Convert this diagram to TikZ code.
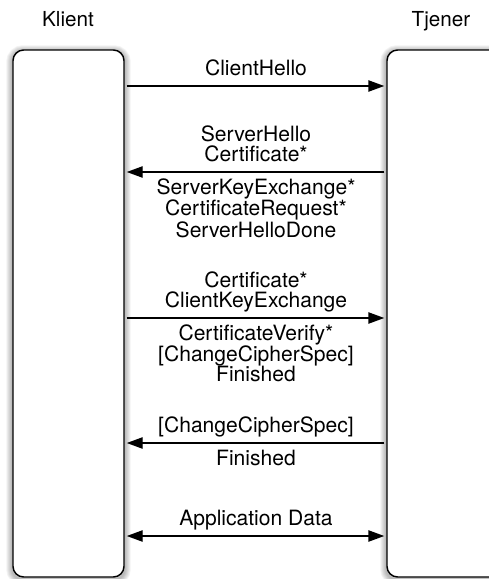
\documentclass[tikz,border=0pt]{standalone}
\usepackage{fontspec}
\setmainfont{TeX Gyre Heros}
\usetikzlibrary{positioning, arrows.meta, backgrounds}

\begin{document}
\begin{tikzpicture}[
  x=0.75pt,
  y=-0.75pt,
  lifeline/.style={
    rectangle,
    draw,
    fill=white,
    line width=1.1pt,
    rounded corners=8pt,
    inner sep=0pt,
    minimum height=395.25pt,
  },
  party/.style={
    anchor=base,
    font=\fontsize{15.5}{15}\selectfont,
  },
  uplabel/.style={
    anchor=south,
    inner sep=0pt,
    align=center,
    font=\fontsize{15.8}{15}\selectfont,
    execute at end node=\strut,
  },
  downlabel/.style={
    anchor=north,
    inner sep=0pt,
    align=center,
    font=\fontsize{15.8}{15}\selectfont,
    execute at begin node=\strut,
  },
  msg/.style={
    draw,
    line width=1.1pt,
    shorten <=1.5pt,
    shorten >=1.5pt,
    -{Triangle[length=12pt, width=8.5pt]},
  },
  both/.style={
    {Triangle[length=12pt, width=8.5pt]}-{Triangle[length=12pt, width=8.5pt]},
  },
]
\useasboundingbox (0,0) rectangle (489,579);

% the two parties
\node[party] (klient label) at (68,26) {Klient};
\node[party] (tjener label) at (441,26) {Tjener};
\node[lifeline, minimum width=83.25pt] (klient) at (68.5,313.5) {};
\node[lifeline, minimum width=84.75pt] (tjener) at (443.5,313.5) {};

% soft shadow round the boxes
\begin{scope}[on background layer]
  \foreach \n in {klient, tjener}
    \foreach \w in {1,...,6}
      \draw[black, opacity=0.05, line width=\w*1.5pt, rounded corners=8pt]
        ([yshift=-1.5pt]\n.south west) rectangle ([yshift=-1.5pt]\n.north east);
\end{scope}

% handshake messages
\coordinate (m1) at (256,86);
\coordinate (m2) at (256,172);
\coordinate (m3) at (256,318);
\coordinate (m4) at (256,443);
\coordinate (m5) at (256,536);

\draw[msg] (klient.east |- m1) -- (tjener.west |- m1);
\node[uplabel] (m1 up) at ([yshift=3pt]m1) {ClientHello};

\draw[msg] (tjener.west |- m2) -- (klient.east |- m2);
\node[uplabel] (m2 up) at ([yshift=3pt]m2) {ServerHello\\Certificate*};
\node[downlabel] (m2 down) at ([yshift=-4.5pt]m2)
  {ServerKeyExchange*\\CertificateRequest*\\ServerHelloDone};

\draw[msg] (klient.east |- m3) -- (tjener.west |- m3);
\node[uplabel] (m3 up) at ([yshift=3pt]m3) {Certificate*\\ClientKeyExchange};
\node[downlabel] (m3 down) at ([yshift=-4.5pt]m3)
  {CertificateVerify*\\{[}ChangeCipherSpec{]}\\Finished};

\draw[msg] (tjener.west |- m4) -- (klient.east |- m4);
\node[uplabel] (m4 up) at ([yshift=3pt]m4) {{[}ChangeCipherSpec{]}};
\node[downlabel] (m4 down) at ([yshift=-5.5pt]m4) {Finished};

\draw[msg, both] (klient.east |- m5) -- (tjener.west |- m5);
\node[uplabel] (m5 up) at ([yshift=3pt]m5) {Application Data};
\end{tikzpicture}
\end{document}
